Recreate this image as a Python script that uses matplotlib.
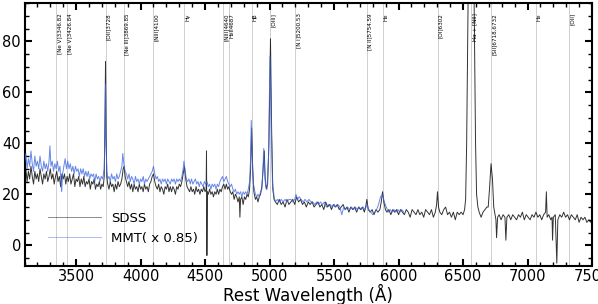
import matplotlib
matplotlib.use("Agg")
import matplotlib.pyplot as plt
import numpy as np

# SDSS spectrum (rest wavelength, flux)
sdss_wave = [3100, 3110, 3120, 3130, 3140, 3150, 3160, 3170, 3180, 3190, 3200, 3210, 3220, 3230, 3240,
             3250, 3260, 3270, 3280, 3290, 3300, 3310, 3320, 3330, 3340, 3350, 3360, 3370, 3380, 3390,
             3400, 3410, 3420, 3430, 3440, 3450, 3460, 3470, 3480, 3490, 3500, 3510, 3520, 3530, 3540,
             3550, 3560, 3570, 3580, 3590, 3600, 3610, 3620, 3630, 3640, 3650, 3660, 3670, 3680, 3690,
             3700, 3710, 3718, 3724, 3728, 3732, 3738, 3745,
             3755, 3765, 3775, 3785, 3795, 3805, 3815, 3825, 3835, 3845, 3855, 3865, 3872, 3880, 3890,
             3900, 3910, 3920, 3930, 3940, 3950, 3960, 3970, 3980, 3990, 4000, 4010, 4020, 4030, 4040,
             4050, 4060, 4070, 4080, 4090, 4100, 4110, 4120, 4130, 4140, 4150, 4160, 4170, 4180, 4190,
             4200, 4210, 4220, 4230, 4240, 4250, 4260, 4270, 4280, 4290, 4300, 4310, 4320, 4330, 4340,
             4350, 4360, 4370, 4380, 4390, 4400, 4410, 4420, 4430, 4440, 4450, 4460, 4470, 4480, 4490,
             4500, 4508, 4511, 4514, 4518, 4525, 4535, 4545, 4555, 4565, 4575, 4585, 4595, 4605, 4615,
             4625, 4635, 4645, 4655, 4665, 4675, 4685, 4695, 4705, 4715, 4725, 4735, 4745, 4755, 4765,
             4770, 4775, 4785, 4795, 4805, 4815, 4825, 4835, 4845, 4853, 4861, 4869, 4878, 4890, 4900,
             4910, 4920, 4930, 4940, 4950, 4959, 4966, 4975, 4985, 4995, 5007, 5016, 5025, 5035, 5045,
             5060, 5075, 5090, 5105, 5120, 5135, 5150, 5165, 5180, 5195, 5210, 5225, 5240, 5255, 5270,
             5285, 5300, 5315, 5330, 5345, 5360, 5375, 5390, 5405, 5420, 5435, 5450, 5465, 5480, 5495,
             5510, 5525, 5540, 5555, 5570, 5585, 5600, 5615, 5630, 5645, 5660, 5675, 5690, 5705, 5720,
             5735, 5745, 5754, 5765, 5780, 5795, 5810, 5825, 5840, 5855, 5866, 5876, 5886, 5898, 5910,
             5925, 5940, 5955, 5970, 5985, 6000, 6015, 6030, 6045, 6060, 6075, 6090, 6105, 6120, 6135,
             6150, 6165, 6180, 6195, 6210, 6225, 6240, 6255, 6270, 6285, 6295, 6302, 6310, 6320, 6335,
             6350, 6365, 6380, 6395, 6410, 6425, 6440, 6455, 6470, 6485, 6500, 6512, 6520, 6528, 6540,
             6555, 6570, 6585, 6597, 6605, 6615, 6625, 6640, 6655, 6670, 6685, 6695, 6705, 6717, 6728,
             6738, 6748, 6755, 6760, 6768, 6780, 6795, 6810, 6825, 6832, 6840, 6855, 6870, 6885, 6900,
             6915, 6930, 6945, 6960, 6975, 6990, 7005, 7020, 7035, 7050, 7065, 7080, 7095, 7110, 7125,
             7140, 7146, 7152, 7165, 7180, 7190, 7194, 7200, 7215, 7227, 7235, 7250, 7265, 7280, 7295,
             7310, 7325, 7340, 7355, 7370, 7385, 7400, 7415, 7430, 7445, 7460, 7475, 7490, 7500]
sdss_flux = [27, 30, 25, 29, 26, 31, 27, 24, 29, 26, 28, 25, 30, 27, 24,
             28, 26, 29, 25, 27, 30, 26, 28, 24, 27, 29, 25, 27, 23, 28,
             26, 28, 24, 27, 25, 28, 24, 26, 28, 23, 26, 25, 27, 23, 26,
             24, 27, 23, 25, 24, 26, 22, 25, 24, 26, 22, 24, 23, 25, 22,
             24, 23, 27, 50, 72, 45, 27, 24,
             22, 25, 23, 24, 21, 24, 22, 25, 23, 24, 26, 30, 31, 27, 25,
             23, 25, 22, 24, 21, 24, 22, 23, 21, 24, 22, 23, 21, 24, 22,
             23, 21, 24, 25, 27, 28, 25, 23, 22, 24, 21, 23, 22, 20, 23,
             22, 24, 21, 23, 21, 23, 22, 20, 23, 22, 24, 23, 25, 28, 31,
             26, 23, 22, 21, 23, 21, 22, 20, 23, 21, 22, 20, 22, 21, 23,
             21, 22, 37, -4, 21, 20, 22, 20, 21, 19, 21, 20, 22, 20, 22,
             21, 23, 24, 22, 24, 22, 23, 21, 20, 21, 18, 20, 19, 17, 19,
             11, 18, 19, 16, 19, 18, 20, 19, 22, 30, 46, 30, 21, 18, 19,
             17, 19, 20, 23, 30, 37, 26, 22, 24, 40, 81, 45, 22, 18, 17,
             16, 18, 16, 17, 15, 18, 16, 17, 18, 16, 19, 17, 18, 16, 17,
             15, 17, 16, 17, 15, 16, 17, 15, 16, 14, 17, 15, 16, 14, 16,
             15, 16, 14, 15, 16, 14, 15, 13, 15, 14, 15, 13, 15, 14, 15,
             13, 15, 18, 14, 13, 14, 12, 14, 13, 14, 17, 21, 17, 14, 13,
             14, 12, 14, 13, 14, 12, 14, 13, 12, 14, 13, 11, 14, 13, 12,
             14, 12, 13, 11, 14, 13, 12, 14, 11, 13, 16, 21, 15, 13, 12,
             14, 15, 12, 13, 11, 13, 10, 13, 12, 13, 12, 14, 18, 40, 100,
             140, 140, 100, 40, 20, 15, 13, 11, 13, 14, 15, 15, 22, 32, 26,
             15, 12, 10, 3, 11, 12, 10, 12, 11, 2, 11, 12, 10, 12, 11,
             10, 12, 11, 13, 10, 12, 11, 10, 12, 11, 13, 11, 12, 10, 12,
             13, 21, 11, 12, 10, 11, 2, 11, 12, -7, 10, 12, 11, 13, 11,
             12, 10, 12, 11, 10, 12, 9, 11, 10, 11, 9, 10, 9, 10]

# MMT spectrum (scaled x 0.85)
mmt_wave = [3100, 3110, 3120, 3130, 3140, 3150, 3160, 3170, 3180, 3190, 3200, 3210, 3220, 3230, 3240,
            3250, 3260, 3270, 3280, 3290, 3297, 3305, 3315, 3325, 3335, 3345, 3355, 3365, 3375, 3383,
            3388, 3395, 3405, 3415, 3425, 3435, 3445, 3455, 3465, 3475, 3485, 3495, 3505, 3515, 3525,
            3535, 3545, 3555, 3565, 3575, 3585, 3595, 3605, 3615, 3625, 3635, 3645, 3655, 3665, 3675,
            3685, 3695, 3705, 3712, 3718, 3724, 3728, 3732, 3738, 3745,
            3755, 3765, 3775, 3785, 3795, 3805, 3815, 3825, 3835, 3845, 3855, 3862, 3870, 3880, 3890,
            3900, 3910, 3920, 3930, 3940, 3950, 3960, 3970, 3980, 3990, 4000, 4010, 4020, 4030, 4040,
            4050, 4060, 4070, 4080, 4090, 4100, 4110, 4120, 4130, 4140, 4150, 4160, 4170, 4180, 4190,
            4200, 4210, 4220, 4230, 4240, 4250, 4260, 4270, 4280, 4290, 4300, 4310, 4320, 4330, 4336,
            4345, 4355, 4365, 4375, 4385, 4395, 4405, 4415, 4425, 4435, 4445, 4455, 4465, 4475, 4485,
            4495, 4505, 4515, 4525, 4535, 4545, 4555, 4565, 4575, 4585, 4595, 4605, 4615, 4625, 4635,
            4645, 4655, 4665, 4675, 4685, 4695, 4705, 4715, 4725, 4735, 4745, 4755, 4765, 4775, 4785,
            4795, 4805, 4815, 4825, 4835, 4845, 4852, 4858, 4866, 4875, 4890, 4900, 4910, 4920, 4930,
            4940, 4947, 4955, 4962, 4970, 4980, 4992, 5003, 5012, 5022, 5035, 5045, 5060, 5075, 5090,
            5105, 5120, 5135, 5150, 5165, 5180, 5195, 5205, 5215, 5230, 5245, 5260, 5275, 5290, 5305,
            5320, 5335, 5350, 5365, 5380, 5395, 5410, 5425, 5440, 5455, 5470, 5485, 5500, 5515, 5530,
            5545, 5560, 5575, 5590, 5605, 5620, 5635, 5650, 5665, 5680, 5695, 5710, 5725, 5740, 5755,
            5770, 5785, 5800, 5815, 5830, 5845, 5860, 5875, 5890, 5905, 5920, 5935, 5950, 5965, 5980,
            5995, 6010, 6025, 6040]
mmt_flux = [32, 36, 30, 34, 31, 37, 32, 29, 35, 31, 33, 30, 35, 31, 29,
            33, 30, 32, 29, 33, 39, 31, 33, 29, 32, 30, 33, 29, 31, 24,
            21, 28, 31, 34, 30, 33, 30, 32, 29, 31, 28, 31, 29, 30, 27,
            30, 28, 30, 27, 29, 27, 29, 26, 28, 27, 28, 25, 28, 26, 27,
            25, 27, 26, 28, 30, 45, 63, 40, 29, 26,
            27, 25, 28, 26, 27, 25, 28, 26, 27, 29, 31, 36, 32, 29, 28,
            26, 28, 25, 27, 26, 24, 27, 25, 26, 24, 26, 25, 27, 24, 26,
            25, 26, 27, 28, 29, 31, 28, 26, 27, 25, 26, 24, 26, 25, 26,
            24, 26, 25, 24, 26, 25, 26, 24, 26, 25, 26, 25, 27, 30, 33,
            29, 26, 25, 26, 24, 26, 24, 25, 26, 24, 25, 23, 25, 24, 23,
            25, 24, 25, 23, 24, 22, 24, 23, 24, 22, 24, 23, 25, 26, 27,
            25, 26, 27, 25, 24, 23, 24, 22, 21, 22, 20, 21, 20, 21, 19,
            21, 20, 21, 20, 22, 25, 33, 49, 34, 24, 20, 19, 20, 19, 21,
            22, 28, 38, 29, 23, 22, 35, 74, 50, 25, 19, 17, 18, 17, 18,
            17, 18, 17, 18, 18, 17, 18, 20, 18, 19, 18, 17, 18, 17, 18,
            17, 17, 16, 17, 16, 17, 16, 17, 15, 16, 16, 15, 16, 15, 16,
            15, 12, 15, 14, 15, 14, 15, 14, 15, 14, 15, 14, 15, 14, 16,
            14, 13, 12, 13, 14, 16, 19, 20, 17, 15, 13, 14, 13, 14, 13,
            14, 13, 14, 13]

# emission line markers
line_waves = [3346.82, 3426.84, 3728, 3869.85, 4100, 4340, 4640, 4687, 4861, 5007,
              5200.53, 5754.59, 5876, 6302, 6563, 6718, 7065, 7320]
line_labels = ['[Ne V]3346.82', '[Ne V]3426.84', '[OII]3728', '[Ne III]3869.85', '[NIII]4100',
               'Hγ', '[NIII]4640', 'HeII4687', 'Hβ', '[OIII]', '[N I]5200.53', '[N II]5754.59',
               'He', '[OI]6302', 'Hα + [NII]', '[SII]6718,6732', 'He', '[OII]']

fig = plt.figure(figsize=(5.98, 3.04), dpi=100)
ax = fig.add_axes([0.041, 0.126, 0.949, 0.864])

for w, lab in zip(line_waves, line_labels):
    ax.axvline(w, color='0.78', lw=0.6, zorder=1)
    ax.text(w + 6, 91, lab, rotation=90, ha='left', va='top', fontsize=4.1, zorder=4)

ax.plot(sdss_wave, sdss_flux, color='k', lw=0.7, alpha=0.8, label='SDSS', zorder=2)
ax.plot(mmt_wave, mmt_flux, color='royalblue', lw=0.7, alpha=0.8, label='MMT( x 0.85)', zorder=3)

ax.set_xlim(3100, 7500)
ax.set_ylim(-8, 95)
ax.set_xticks([3500, 4000, 4500, 5000, 5500, 6000, 6500, 7000, 7500])
ax.set_yticks([0, 20, 40, 60, 80])
ax.xaxis.set_minor_locator(matplotlib.ticker.MultipleLocator(100))
ax.yaxis.set_minor_locator(matplotlib.ticker.MultipleLocator(5))
ax.tick_params(which='both', direction='in', top=True, right=True, labelsize=10.5, pad=2.5)
ax.tick_params(which='major', length=5, width=1.5)
ax.tick_params(which='minor', length=3, width=1.0)
for s in ax.spines.values():
    s.set_linewidth(1.5)

ax.set_xlabel('Rest Wavelength (Å)', fontsize=12, labelpad=0)

leg = ax.legend(loc='lower left', frameon=False, fontsize=9.5, handlelength=4,
                bbox_to_anchor=(0.02, 0.035))
for h in leg.legend_handles:
    h.set_alpha(0.45)

fig.savefig('out.png', dpi=100)
